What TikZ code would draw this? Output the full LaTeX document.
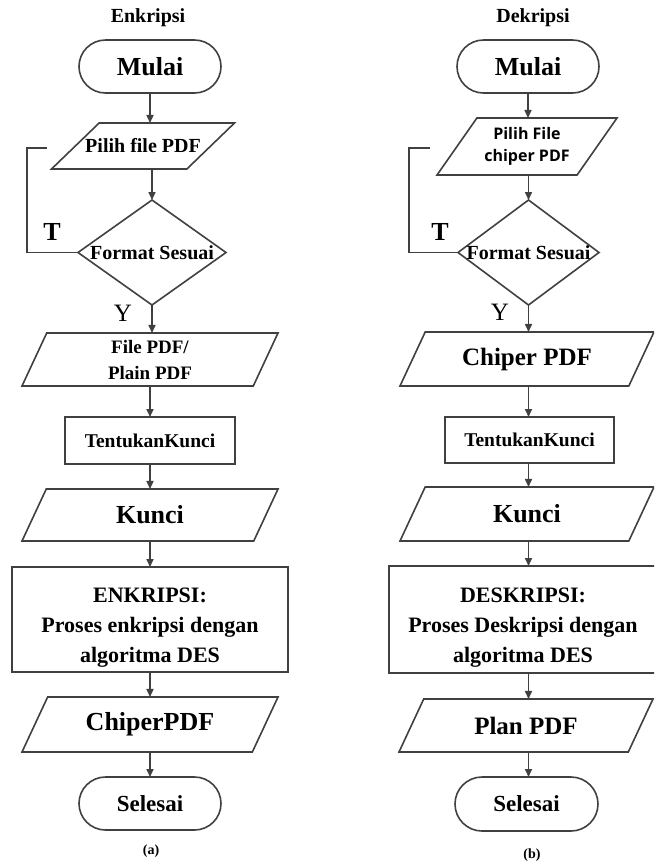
\documentclass[tikz,border=0pt]{standalone}
\usepackage{fontspec}
\setmainfont{Liberation Serif}
\newfontfamily\sansbold{Open Sans}
\usetikzlibrary{shapes.geometric,shapes.misc,arrows.meta}

\tikzset{
  conn/.style={draw=black!75, line width=1.6pt},
  flow/.style={conn, -{Triangle[length=8pt,width=7pt]}},
  terminal/.style={rounded rectangle, conn, inner sep=0pt, outer sep=0pt,
    minimum width=142pt, minimum height=53pt},
  % parallelogram: empty body of fixed height, text set as a label
  io/.style={trapezium, trapezium stretches body, trapezium left angle=65,
    trapezium right angle=115, conn, inner sep=0pt, outer sep=0pt,
    minimum width=256pt, text height=53pt, text depth=0pt},
  process/.style={rectangle, conn, inner sep=0pt, outer sep=0pt, align=center},
  decision/.style={diamond, conn, inner sep=0pt, outer sep=0pt,
    minimum width=148pt, minimum height=105pt},
  plain/.style={inner sep=0pt, outer sep=0pt, align=center}
}

\begin{document}
\begin{tikzpicture}[x=1pt,y=-1pt]
\useasboundingbox (0,0) rectangle (654,863);
\clip (0,0) rectangle (654,863);

% (a) Enkripsi
\node[plain, font=\fontsize{20}{24}\selectfont\bfseries] (judulA) at (148,18) {Enkripsi};
\node[terminal, font=\fontsize{26}{30}\selectfont\bfseries] (mulaiA) at (150,66.5) {Mulai};
\node[io, trapezium left angle=44, trapezium right angle=136, minimum width=183pt, text height=46pt,
  label={[plain, name=pilihAtxt, font=\fontsize{20}{24}\selectfont\bfseries]center:Pilih file PDF}] (pilihA) at (143,146) {};
\node[decision] (fmtA) at (152,252.5) {};
\node[plain, font=\fontsize{20}{24}\selectfont\bfseries] (fmtAtxt) at (fmtA) {Format Sesuai};
\coordinate (backA) at (47,148);
\node[plain, font=\fontsize{26}{30}\selectfont\bfseries] (tA) at (52,232) {T};
\node[plain, font=\fontsize{25}{30}\selectfont] (yA) at (123,313) {Y};
\node[io, label={[plain, name=fileAtxt, font=\fontsize{19}{26}\selectfont\bfseries]center:File PDF/\\Plain PDF}] (fileA) at (150,359.5) {};
\node[process, minimum width=170pt, minimum height=47pt,
  font=\fontsize{19.5}{24}\selectfont\bfseries] (kunciSetA) at (150,440.5) {TentukanKunci};
\node[io, text height=52pt, label={[plain, name=kunciAtxt, font=\fontsize{26}{30}\selectfont\bfseries]center:Kunci}] (kunciA) at (150,515) {};
\node[process, minimum width=276pt, minimum height=105pt,
  font=\fontsize{22}{30}\selectfont\bfseries] (enkA) at (150,619.5) {\rule{0pt}{30pt}ENKRIPSI:\\Proses enkripsi dengan\\algoritma DES};
\node[io, text height=55pt, label={[plain, name=chiperAtxt, font=\fontsize{26}{30}\selectfont\bfseries]center:ChiperPDF}] (chiperA) at (150,724.5) {};
\node[terminal, font=\fontsize{23}{28}\selectfont\bfseries] (selesaiA) at (150,803.5) {Selesai};
\node[plain, font=\fontsize{14}{17}\selectfont\bfseries] (capA) at (151,851) {(a)};

\draw[flow] (mulaiA.south) -- (mulaiA.south |- pilihA.north);
\draw[flow] (fmtA.north |- pilihA.south) -- (fmtA.north);
\draw[conn] (fmtA.west) -| ([xshift=-20pt]backA) -- (backA);
\draw[flow] (fmtA.south) -- (fmtA.south |- fileA.north);
\draw[flow] (fileA.south) -- (kunciSetA.north);
\draw[flow] (kunciSetA.south) -- (kunciA.north);
\draw[flow] (kunciA.south) -- (enkA.north);
\draw[flow] (enkA.south) -- (chiperA.north);
\draw[flow] (chiperA.south) -- (selesaiA.north);

% (b) Dekripsi
\node[plain, font=\fontsize{20}{24}\selectfont\bfseries] (judulB) at (533,18) {Dekripsi};
\node[terminal, font=\fontsize{26}{30}\selectfont\bfseries] (mulaiB) at (528,66.5) {Mulai};
\node[io, trapezium left angle=55, trapezium right angle=125, minimum width=180pt, text height=57pt,
  label={[plain, name=pilihBtxt, font=\sansbold\fontsize{16}{22}\selectfont\bfseries]center:Pilih File\\chiper PDF}] (pilihB) at (527,146.5) {};
\node[decision, minimum width=141pt] (fmtB) at (528.5,252.5) {};
\node[plain, font=\fontsize{20}{24}\selectfont\bfseries] (fmtBtxt) at (fmtB) {Format Sesuai};
\coordinate (backB) at (430,148);
\node[plain, font=\fontsize{26}{30}\selectfont\bfseries] (tB) at (440,232) {T};
\node[plain, font=\fontsize{25}{30}\selectfont] (yB) at (500,312) {Y};
\node[io, minimum width=254pt, text height=54pt,
  label={[plain, name=chiperBtxt, font=\fontsize{25}{30}\selectfont\bfseries]center:Chiper PDF}] (chiperB) at (527,359) {};
\node[process, minimum width=169pt, minimum height=46pt,
  font=\fontsize{19.5}{24}\selectfont\bfseries] (kunciSetB) at (529.5,440) {TentukanKunci};
\node[io, minimum width=254pt, text height=54pt,
  label={[plain, name=kunciBtxt, font=\fontsize{26}{30}\selectfont\bfseries]center:Kunci}] (kunciB) at (527,514) {};
\node[process, minimum width=268pt, minimum height=107pt,
  font=\fontsize{22}{30}\selectfont\bfseries] (dekB) at (523,619.5) {\rule{0pt}{30pt}DESKRIPSI:\\Proses Deskripsi dengan\\algoritma DES};
\node[io, minimum width=254pt, text height=53pt,
  label={[plain, name=planBtxt, font=\fontsize{25}{30}\selectfont\bfseries]center:Plan PDF}] (planB) at (526,725.5) {};
\node[terminal, minimum width=143pt, minimum height=54pt,
  font=\fontsize{23}{28}\selectfont\bfseries] (selesaiB) at (526.5,804) {Selesai};
\node[plain, font=\fontsize{14}{17}\selectfont\bfseries] (capB) at (532,855) {(b)};

\draw[flow] (mulaiB.south) -- (mulaiB.south |- pilihB.north);
\draw[flow] (fmtB.north |- pilihB.south) -- (fmtB.north);
\draw[conn] (fmtB.west) -| ([xshift=-21pt]backB) -- (backB);
\draw[flow] (fmtB.south) -- (fmtB.south |- chiperB.north);
\draw[flow] (fmtB.south |- chiperB.south) -- (fmtB.south |- kunciSetB.north);
\draw[flow] (fmtB.south |- kunciSetB.south) -- (fmtB.south |- kunciB.north);
\draw[flow] (fmtB.south |- kunciB.south) -- (fmtB.south |- dekB.north);
\draw[flow] (fmtB.south |- dekB.south) -- (fmtB.south |- planB.north);
\draw[flow] (fmtB.south |- planB.south) -- (fmtB.south |- selesaiB.north);
\end{tikzpicture}
\end{document}
